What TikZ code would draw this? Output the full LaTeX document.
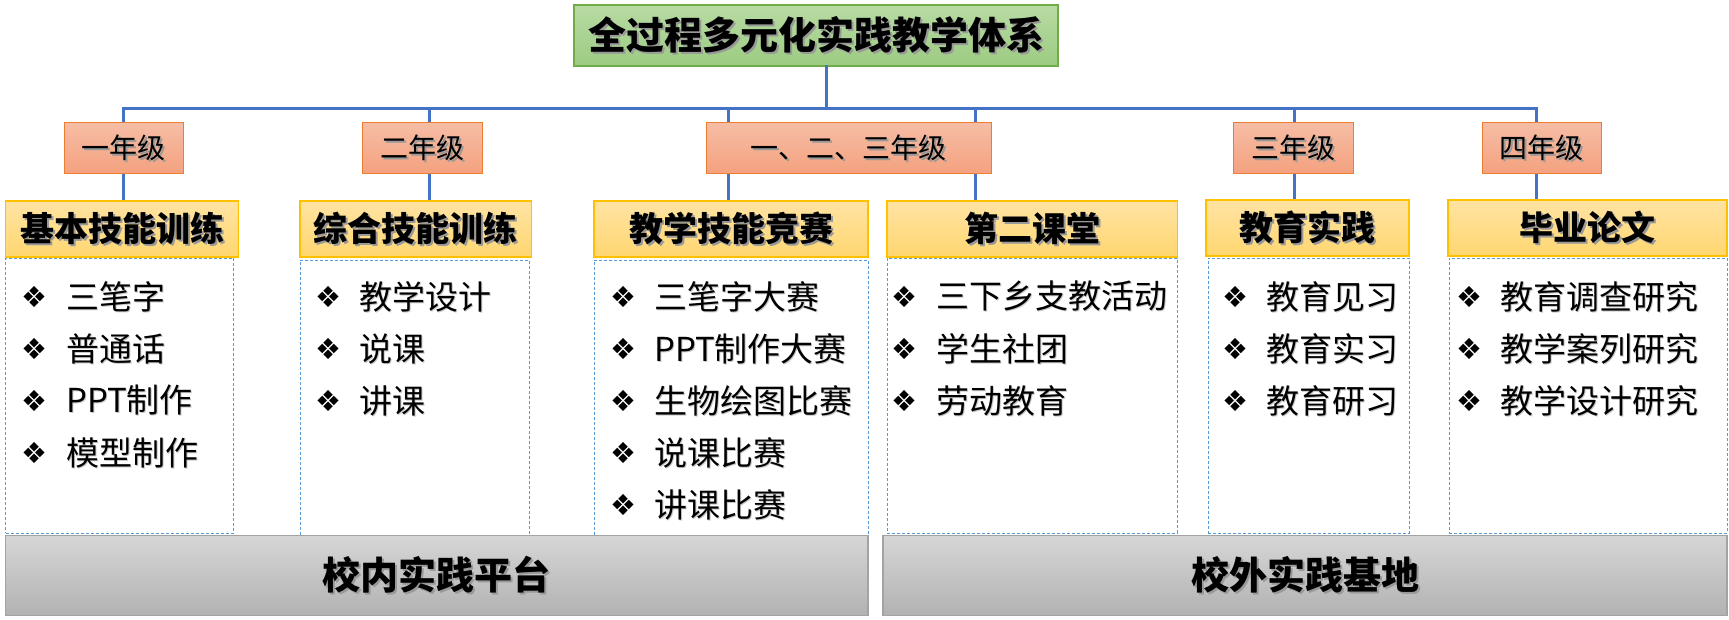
\documentclass[tikz,border=0pt]{standalone}
\usepackage{fontspec}
\newfontfamily\cjk{Noto Sans CJK SC}
\newfontfamily\djv{DejaVu Sans}
\definecolor{linkblue}{HTML}{4472C4}
\definecolor{dashblue}{HTML}{5B9BD5}
\definecolor{greenT}{HTML}{B8DBA3}
\definecolor{greenB}{HTML}{9CCB82}
\definecolor{greenD}{HTML}{70AD47}
\definecolor{salT}{HTML}{F6BDA5}
\definecolor{salB}{HTML}{F4A17E}
\definecolor{orangeD}{HTML}{ED7D31}
\definecolor{yelT}{HTML}{FFE3A3}
\definecolor{yelB}{HTML}{FFD770}
\definecolor{goldD}{HTML}{FFC000}
\definecolor{grayT}{HTML}{D6D6D6}
\definecolor{grayBt}{HTML}{B2B2B2}
\definecolor{grayD}{HTML}{A3A3A3}
\newcommand\shd[1]{\leavevmode\rlap{\kern2pt\raisebox{-2pt}{\textcolor{black!40}{#1}}}#1}
\newcommand\shl[1]{\leavevmode\rlap{\kern1pt\raisebox{-1pt}{\textcolor{black!22}{#1}}}#1}
\begin{document}
\begin{tikzpicture}[x=1pt,y=-1pt,
  titlebox/.style={draw=greenD, line width=1.2pt, top color=greenT, bottom color=greenB,
    inner sep=0, minimum width=484, minimum height=61, font=\cjk\bfseries\fontsize{38}{44}\selectfont},
  grade/.style={draw=orangeD, line width=1pt, top color=salT, bottom color=salB,
    inner sep=0, minimum height=51, font=\cjk\fontsize{28}{32}\selectfont},
  cat/.style={draw=goldD, line width=1.2pt, top color=yelT, bottom color=yelB,
    inner sep=0, minimum height=56, font=\cjk\bfseries\fontsize{34}{40}\selectfont},
  listbox/.style={draw=dashblue, line width=0.9pt, dash pattern=on 3pt off 2pt, inner sep=0},
  bar/.style={draw=grayD, line width=1.5pt, top color=grayT, bottom color=grayBt,
    inner sep=0, minimum height=80, font=\cjk\bfseries\fontsize{38}{44}\selectfont},
  conn/.style={draw=linkblue, line width=3pt},
  item/.style={anchor=west, inner sep=0, font=\cjk\fontsize{33}{38}\selectfont},
  bul/.style={inner sep=0, font=\djv\fontsize{29}{32}\selectfont}
]
\useasboundingbox (0,0) rectangle (1729,620);

% title
\node[titlebox] (title) at (816,35.5) {\shd{全过程多元化实践教学体系}};

% grades
\node[grade, minimum width=119] (g1) at (123.5,148.5) {\shd{一年级}};
\node[grade, minimum width=120] (g2) at (422,148.5) {\shd{二年级}};
\node[grade, minimum width=285] (g3) at (848.5,148.5) {\shd{一、二、三年级}};
\node[grade, minimum width=120] (g4) at (1293,148.5) {\shd{三年级}};
\node[grade, minimum width=119.5] (g5) at (1541.75,148.5) {\shd{四年级}};

% list boxes
\node[listbox, minimum width=228, minimum height=275] (l1) at (119.5,395.5) {};
\node[listbox, minimum width=229, minimum height=280] (l2) at (414.5,400) {};
\node[listbox, minimum width=274, minimum height=280] (l3) at (731,400) {};
\node[listbox, minimum width=290, minimum height=275] (l4) at (1032,395.5) {};
\node[listbox, minimum width=201, minimum height=275] (l5) at (1308.5,395.5) {};
\node[listbox, minimum width=278, minimum height=275] (l6) at (1588,395.5) {};

% categories
\node[cat, minimum width=233] (c1) at (122,229) {\shd{基本技能训练}};
\node[cat, minimum width=231.5] (c2) at (415.75,229) {\shd{综合技能训练}};
\node[cat, minimum width=274] (c3) at (731,229) {\shd{教学技能竞赛}};
\node[cat, minimum width=290.5] (c4) at (1032.25,229) {\shd{第二课堂}};
\node[cat, minimum width=203] (c5) at (1307.5,228) {\shd{教育实践}};
\node[cat, minimum width=279] (c6) at (1587.5,228) {\shd{毕业论文}};

% bars
\node[bar, minimum width=862.5] (b1) at (436.75,575.5) {\shd{校内实践平台}};
\node[bar, minimum width=844] (b2) at (1305,575.5) {\shd{校外实践基地}};

% connectors
\coordinate (busL) at (123.5,108.5);
\coordinate (busR) at (1536,108.5);
\coordinate (bt) at (826,108.5);
\coordinate (d1) at (123.5,0);
\coordinate (d2) at (429,0);
\coordinate (d3) at (728.5,0);
\coordinate (d4) at (975,0);
\coordinate (d5) at (1294,0);
\coordinate (d6) at (1536,0);
\draw[conn] ([yshift=1.5pt]title.south -| bt) -- (bt);
\draw[conn] ([xshift=-1.5pt]busL) -- ([xshift=1.5pt]busR);
\draw[conn] (d1 |- busL) -- (d1 |- g1.north);
\draw[conn] (d1 |- g1.south) -- (d1 |- c1.north);
\draw[conn] (d2 |- busL) -- (d2 |- g2.north);
\draw[conn] (d2 |- g2.south) -- (d2 |- c2.north);
\draw[conn] (d3 |- busL) -- (d3 |- g3.north);
\draw[conn] (d3 |- g3.south) -- (d3 |- c3.north);
\draw[conn] (d4 |- busL) -- (d4 |- g3.north);
\draw[conn] (d4 |- g3.south) -- (d4 |- c4.north);
\draw[conn] (d5 |- busL) -- (d5 |- g4.north);
\draw[conn] (d5 |- g4.south) -- (d5 |- c5.north);
\draw[conn] (d6 |- busL) -- (d6 |- g5.north);
\draw[conn] (d6 |- g5.south) -- (d6 |- c6.north);

% items
\foreach \t [count=\i] in {三笔字,普通话,PPT制作,模型制作}{
  \node[bul] (a\i) at (34,{297+52*(\i-1)}) {❖};
  \node[item] (at\i) at (66,{297+52*(\i-1)}) {\shl{\t}};
}
\foreach \t [count=\i] in {教学设计,说课,讲课}{
  \node[bul] (b\i) at (328.5,{297+52*(\i-1)}) {❖};
  \node[item] (bt\i) at (359,{297+52*(\i-1)}) {\shl{\t}};
}
\foreach \t [count=\i] in {三笔字大赛,PPT制作大赛,生物绘图比赛,说课比赛,讲课比赛}{
  \node[bul] (c\i x) at (623,{297+52*(\i-1)}) {❖};
  \node[item] (ct\i) at (654,{297+52*(\i-1)}) {\shl{\t}};
}
\foreach \t [count=\i] in {三下乡支教活动,学生社团,劳动教育}{
  \node[bul] (d\i x) at (904,{297+52*(\i-1)}) {❖};
  \node[item] (dt\i) at (936,{297+52*(\i-1)}) {\shl{\t}};
}
\foreach \t [count=\i] in {教育见习,教育实习,教育研习}{
  \node[bul] (e\i x) at (1235,{297+52*(\i-1)}) {❖};
  \node[item] (et\i) at (1266,{297+52*(\i-1)}) {\shl{\t}};
}
\foreach \t [count=\i] in {教育调查研究,教学案列研究,教学设计研究}{
  \node[bul] (f\i x) at (1469.5,{297+52*(\i-1)}) {❖};
  \node[item] (ft\i) at (1500,{297+52*(\i-1)}) {\shl{\t}};
}
\end{tikzpicture}
\end{document}
